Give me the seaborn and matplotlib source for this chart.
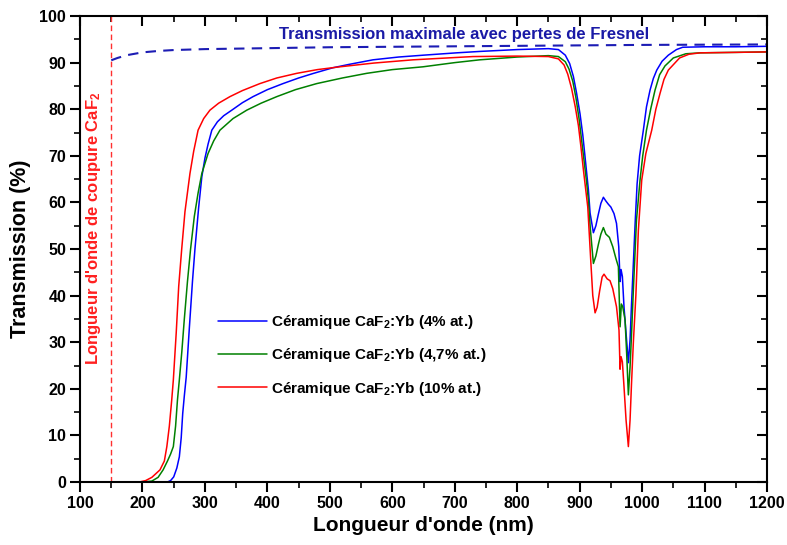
import numpy as np
import pandas as pd
import matplotlib
matplotlib.use("Agg")
import matplotlib.pyplot as plt
from matplotlib.ticker import MultipleLocator
import seaborn as sns

# Transmission spectra of CaF2:Yb ceramics
wl_4 = [200, 240, 245, 250, 255, 259, 262, 264.4, 267, 270, 275, 280, 284, 290, 295, 300, 305, 311, 320,
        330, 343, 360, 377, 400, 425, 450, 474, 505, 530, 569, 610, 650, 703, 740, 800, 850, 866, 877, 884,
        890, 895, 900.6, 905, 908.6, 914, 916.7, 922, 926, 930, 934, 938, 942, 946, 950, 955, 959, 962.6,
        964.7, 966.3, 968.4, 971, 974.3, 978, 980.7, 983, 986, 989, 992, 996, 1002, 1007, 1012.7, 1018,
        1023.5, 1032, 1042, 1055, 1065, 1100, 1150, 1200]
t_4 = [0, 0, 0.3, 1.1, 3.0, 5.4, 9.5, 14.7, 18.5, 22.5, 33, 43, 50, 59, 65.5, 69.5, 72.5, 75.5, 77.3,
       78.6, 79.8, 81.4, 82.7, 84.2, 85.5, 86.7, 87.7, 88.9, 89.6, 90.6, 91.2, 91.6, 92.1, 92.4, 92.8, 93.0,
       92.8, 91.6, 89.8, 87.0, 83.5, 79.0, 74.5, 69.8, 62.7, 57.7, 53.5, 55.0, 57.5, 59.8, 61.1, 60.3, 59.6,
       59.0, 57.6, 55.5, 50.5, 43.0, 45.6, 44.1, 37.6, 31.9, 25.6, 30.5, 38.0, 46.9, 56.0, 64.0, 70.0, 75.5,
       80.5, 84.1, 86.6, 88.4, 90.3, 91.6, 92.8, 93.3, 93.4, 93.4, 93.5]

wl_47 = [200, 215, 225, 233, 240, 245, 249.4, 253, 256, 259, 263, 267, 272, 277, 283, 289, 295, 305, 314,
         324, 345, 367, 390, 415, 445, 479, 520, 559, 600, 649, 700, 740, 800, 850, 866, 877, 883, 889, 894,
         899, 903, 907, 911, 914, 917, 922, 926, 930, 934, 938, 942, 947.6, 953, 958, 962, 964.7, 966.8, 969,
         972.7, 975.5, 978, 980.7, 983, 986, 991, 996.7, 1001, 1007, 1014, 1020.7, 1028, 1036.7, 1050, 1070,
         1093, 1150, 1200]
t_47 = [0, 0.2, 1.0, 2.6, 4.5, 6.0, 7.6, 12.0, 17.6, 21.9, 28.0, 35.0, 43.0, 50.0, 57.0, 62.0, 66.2, 70.5,
        73.2, 75.5, 78.0, 79.8, 81.3, 82.7, 84.2, 85.5, 86.7, 87.7, 88.5, 89.1, 90.0, 90.6, 91.2, 91.5, 91.3,
        90.2, 88.6, 86.0, 82.5, 78.0, 73.5, 69.0, 64.5, 60.5, 54.5, 46.9, 48.5, 51.0, 53.2, 54.6, 53.2, 52.5,
        50.5, 48.0, 46.2, 33.3, 38.2, 37.6, 34.8, 26.9, 18.7, 24.7, 31.5, 41.2, 56.2, 64.8, 70.0, 75.5, 80.2,
        84.1, 87.4, 89.3, 91.0, 91.9, 92.1, 92.2, 92.3]

wl_10 = [195, 205, 215, 228, 235, 239, 243, 246.8, 249.4, 254, 258, 262.8, 268, 276, 282, 289, 298, 308,
         322, 340, 360, 388, 415, 447, 480, 516, 570, 633, 729, 800, 850, 866, 875, 881, 887, 893, 898, 902,
         906, 913, 918, 921, 924.7, 928, 932, 936, 939, 944, 948.6, 953, 959, 963, 964.7, 966.3, 968.4, 971,
         974.3, 978, 980.7, 983, 986, 990, 994, 999.4, 1006, 1015.4, 1022, 1028.7, 1035, 1042, 1060, 1075,
         1093, 1150, 1200]
t_10 = [0, 0.3, 1.0, 2.6, 4.5, 7.6, 12.0, 17.6, 21.9, 32.0, 42.0, 50.0, 58.0, 66.2, 71.0, 75.5, 78.0, 79.8,
        81.3, 82.7, 84.0, 85.5, 86.7, 87.7, 88.5, 89.1, 89.9, 90.6, 91.3, 91.4, 91.3, 90.8, 89.5, 87.5, 84.5,
        80.5, 76.5, 72.0, 67.0, 59.0, 47.0, 40.0, 36.3, 37.5, 41.0, 44.0, 44.6, 43.6, 43.2, 41.5, 37.6, 32.6,
        24.2, 26.9, 25.8, 20.5, 13.3, 7.6, 13.3, 21.0, 30.0, 40.0, 54.0, 64.8, 70.5, 75.5, 80.0, 83.4, 86.4,
        88.4, 91.0, 91.8, 92.1, 92.2, 92.3]

# maximal transmission with Fresnel losses
wl_fresnel = [150, 160, 175, 200, 225, 250, 300, 350, 400, 500, 600, 700, 800, 900, 1000, 1100, 1200]
t_fresnel = [90.5, 91.0, 91.6, 92.2, 92.5, 92.7, 92.9, 93.0, 93.1, 93.3, 93.4, 93.5, 93.6, 93.7, 93.8, 93.85, 93.9]

cutoff_wl = 150
labels = ["Céramique CaF$_2$:Yb (4% at.)", "Céramique CaF$_2$:Yb (4,7% at.)", "Céramique CaF$_2$:Yb (10% at.)"]
colors = ["#0000ff", "#008000", "#ff0000"]

df = pd.concat([
    pd.DataFrame({"wl": wl_4, "T": t_4, "sample": labels[0]}),
    pd.DataFrame({"wl": wl_47, "T": t_47, "sample": labels[1]}),
    pd.DataFrame({"wl": wl_10, "T": t_10, "sample": labels[2]}),
])
fresnel = pd.DataFrame({"wl": wl_fresnel, "T": t_fresnel})

sns.set_theme(style="ticks")
plt.rcParams["font.family"] = ["Liberation Sans", "DejaVu Sans"]
plt.rcParams["font.weight"] = "bold"
plt.rcParams["mathtext.default"] = "regular"
plt.rcParams["text.color"] = "black"
plt.rcParams["axes.labelcolor"] = "black"
plt.rcParams["xtick.color"] = "black"
plt.rcParams["ytick.color"] = "black"

fig = plt.figure(figsize=(7.87, 5.45), dpi=100)
ax = fig.add_axes([0.1017, 0.1156, 0.8729, 0.855])

sns.lineplot(data=df, x="wl", y="T", hue="sample", palette=colors, hue_order=labels,
             sort=False, estimator=None, linewidth=1.1, ax=ax)
sns.lineplot(data=fresnel, x="wl", y="T", color="#1c1cb4", linewidth=1.5,
             linestyle=(0, (5, 3.5)), ax=ax, legend=False)
ax.axvline(cutoff_wl, color="#ff3030", linewidth=1.0, linestyle=(0, (4, 2.5)))

ax.set_xlim(100, 1200)
ax.set_ylim(0, 100)
ax.xaxis.set_major_locator(MultipleLocator(100))
ax.xaxis.set_minor_locator(MultipleLocator(50))
ax.yaxis.set_major_locator(MultipleLocator(10))
ax.yaxis.set_minor_locator(MultipleLocator(5))
ax.tick_params(which="major", direction="out", length=7, width=1.5, labelsize=11.5, colors="black", pad=3)
ax.tick_params(which="minor", direction="out", length=4, width=1.2, colors="black")
for lab in ax.get_xticklabels() + ax.get_yticklabels():
    lab.set_fontweight("bold")
for sp in ax.spines.values():
    sp.set_linewidth(1.5)
    sp.set_color("black")

# mirrored axes with inward ticks on top and right
top = ax.secondary_xaxis("top")
top.xaxis.set_major_locator(MultipleLocator(100))
top.xaxis.set_minor_locator(MultipleLocator(50))
top.tick_params(which="major", direction="in", length=7, width=1.5, labeltop=False, colors="black")
top.tick_params(which="minor", direction="in", length=4, width=1.2, colors="black")
right = ax.secondary_yaxis("right")
right.yaxis.set_major_locator(MultipleLocator(10))
right.yaxis.set_minor_locator(MultipleLocator(5))
right.tick_params(which="major", direction="in", length=7, width=1.5, labelright=False, colors="black")
right.tick_params(which="minor", direction="in", length=4, width=1.2, colors="black")

ax.set_xlabel("Longueur d'onde (nm)", fontsize=15, fontweight="bold", labelpad=4, color="black")
ax.set_ylabel("Transmission (%)", fontsize=15.5, fontweight="bold", labelpad=6, color="black")

ax.text(715, 96.1, "Transmission maximale avec pertes de Fresnel", color="#1a1aa6",
        fontsize=12, fontweight="bold", ha="center", va="center")
ax.text(122, 54.5, "Longueur d'onde de coupure CaF$_2$", color="#ff2020", fontsize=12,
        fontweight="bold", rotation=90, ha="center", va="center")

handles, labs = ax.get_legend_handles_labels()
leg = ax.legend(handles, labs, loc="center left", bbox_to_anchor=(0.19, 0.272), frameon=False,
                handlelength=3.2, handletextpad=0.25, labelspacing=1.0, borderpad=0,
                prop={"weight": "bold", "size": 11})
for t in leg.get_texts():
    t.set_color("black")

fig.savefig("out.png", dpi=100)
